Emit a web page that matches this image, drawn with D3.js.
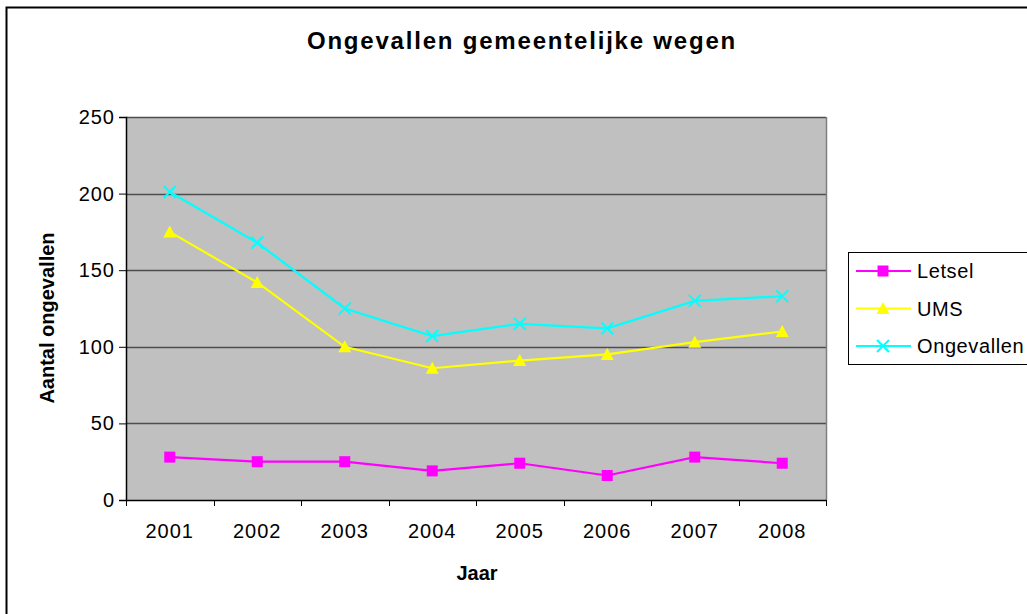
<!DOCTYPE html>
<html>
<head>
<meta charset="utf-8">
<script src="https://cdn.jsdelivr.net/npm/d3@7"></script>
<style>
  html, body { margin: 0; padding: 0; background: #fff; }
  svg { display: block; font-family: "Liberation Sans", Arial, sans-serif; }
</style>
</head>
<body>
<svg id="chart" width="1027" height="614"></svg>
<script>
// Jaarlijkse aantallen op gemeentelijke wegen
const years = ["2001", "2002", "2003", "2004", "2005", "2006", "2007", "2008"];
const letsel = [28, 25, 25, 19, 24, 16, 28, 24];
const ums = [175, 142, 100, 86, 91, 95, 103, 110];
const ongevallen = [201, 168, 125, 107, 115, 112, 130, 133];
const yTicks = [0, 50, 100, 150, 200, 250];

const series = [
  { name: "Letsel", values: letsel, color: "#ff00ff", marker: "square" },
  { name: "UMS", values: ums, color: "#ffff00", marker: "triangle" },
  { name: "Ongevallen", values: ongevallen, color: "#00ffff", marker: "cross" }
];

const FONT = "Liberation Sans, Arial, sans-serif";
const svg = d3.select("#chart");

// Outer chart frame
svg.append("rect")
  .attr("x", 6.5).attr("y", 7.5)
  .attr("width", 1040).attr("height", 640)
  .attr("fill", "#fff").attr("stroke", "#000").attr("stroke-width", 2);

const plot = { left: 126, right: 826, top: 117, bottom: 500 };

const x = d3.scaleBand().domain(years).range([plot.left, plot.right]);
const y = d3.scaleLinear().domain([0, 250]).range([plot.bottom, plot.top]);

// Plot background
svg.append("rect")
  .attr("x", plot.left).attr("y", plot.top)
  .attr("width", plot.right - plot.left).attr("height", plot.bottom - plot.top)
  .attr("fill", "#c0c0c0");

// Gridlines
svg.append("g").selectAll("line")
  .data(yTicks.filter(d => d > 0))
  .join("line")
  .attr("x1", plot.left).attr("x2", plot.right)
  .attr("y1", d => Math.round(y(d)) + 0.5).attr("y2", d => Math.round(y(d)) + 0.5)
  .attr("stroke", "#4d4d4d").attr("stroke-width", 1.5);

// Right border of plot area
svg.append("line")
  .attr("x1", plot.right + 0.5).attr("x2", plot.right + 0.5)
  .attr("y1", plot.top).attr("y2", plot.bottom)
  .attr("stroke", "#808080").attr("stroke-width", 1.5);

// Y axis
const yAxis = d3.axisLeft(y).tickValues(yTicks).tickSize(7).tickPadding(6);
const gy = svg.append("g").attr("transform", `translate(${plot.left},0)`).call(yAxis);
gy.select(".domain").attr("stroke", "#000").attr("stroke-width", 1.5);
gy.selectAll(".tick line").attr("stroke", "#000");
gy.selectAll(".tick text").attr("font-size", 20).attr("fill", "#000")
  .attr("letter-spacing", 1).attr("dx", 2)
  .attr("font-family", FONT);

// X axis: ticks sit between the categories
const xAxis = d3.axisBottom(x).tickSize(0).tickPadding(24);
const gx = svg.append("g").attr("transform", `translate(0,${plot.bottom})`).call(xAxis);
gx.select(".domain").attr("stroke", "#000").attr("stroke-width", 1.5);
gx.selectAll(".tick text").attr("font-size", 20).attr("fill", "#000")
  .attr("letter-spacing", 1)
  .attr("font-family", FONT);
gx.append("g").selectAll("line")
  .data(years)
  .join("line")
  .attr("x1", (d, i) => Math.round(x(years[0]) + x.bandwidth() * (i + 1)) + 0.5)
  .attr("x2", (d, i) => Math.round(x(years[0]) + x.bandwidth() * (i + 1)) + 0.5)
  .attr("y1", 0).attr("y2", 6)
  .attr("stroke", "#000");
gx.append("line")
  .attr("x1", plot.left + 0.5).attr("x2", plot.left + 0.5)
  .attr("y1", 0).attr("y2", 6).attr("stroke", "#000");

// Markers
function drawMarker(g, type, color, size) {
  const h = size / 2;
  if (type === "square") {
    g.append("rect").attr("x", -h).attr("y", -h).attr("width", size).attr("height", size)
      .attr("fill", color);
  } else if (type === "triangle") {
    g.append("path").attr("d", `M0,${-h - 1}L${h + 1},${h}L${-h - 1},${h}Z`).attr("fill", color);
  } else {
    g.append("path").attr("d", `M${-h},${-h}L${h},${h}M${-h},${h}L${h},${-h}`)
      .attr("stroke", color).attr("stroke-width", 2).attr("fill", "none");
  }
}

const line = d3.line()
  .x((d, i) => x(years[i]) + x.bandwidth() / 2)
  .y(d => y(d));

series.forEach(s => {
  svg.append("path")
    .attr("d", line(s.values))
    .attr("fill", "none")
    .attr("stroke", s.color)
    .attr("stroke-width", 2.2);
  s.values.forEach((v, i) => {
    const g = svg.append("g")
      .attr("transform", `translate(${x(years[i]) + x.bandwidth() / 2},${y(v)})`);
    drawMarker(g, s.marker, s.color, s.marker === "cross" ? 12 : 11);
  });
});

// Title
svg.append("text")
  .attr("x", 522).attr("y", 49)
  .attr("text-anchor", "middle")
  .attr("font-size", 24).attr("font-weight", "bold")
  .attr("letter-spacing", 1.8)
  .text("Ongevallen gemeentelijke wegen");

// Axis titles
svg.append("text")
  .attr("transform", `translate(54,318) rotate(-90)`)
  .attr("text-anchor", "middle")
  .attr("font-size", 20).attr("font-weight", "bold")
  .text("Aantal ongevallen");

svg.append("text")
  .attr("x", (plot.left + plot.right) / 2 + 1).attr("y", 580)
  .attr("text-anchor", "middle")
  .attr("font-size", 20).attr("font-weight", "bold")
  .text("Jaar");

// Legend
const legend = svg.append("g");
legend.append("rect")
  .attr("x", 848.5).attr("y", 252.5)
  .attr("width", 200).attr("height", 112)
  .attr("fill", "#fff").attr("stroke", "#000").attr("stroke-width", 1);

series.forEach((s, i) => {
  const cy = 271 + i * 37.5;
  const g = legend.append("g");
  g.append("line")
    .attr("x1", 856).attr("x2", 911)
    .attr("y1", cy).attr("y2", cy)
    .attr("stroke", s.color).attr("stroke-width", 2.2);
  const m = g.append("g").attr("transform", `translate(883,${cy})`);
  drawMarker(m, s.marker, s.color, s.marker === "cross" ? 12 : 11);
  g.append("text")
    .attr("x", 917).attr("y", cy + 7)
    .attr("font-size", 20)
    .attr("letter-spacing", 0.6)
    .text(s.name);
});
</script>
</body>
</html>
